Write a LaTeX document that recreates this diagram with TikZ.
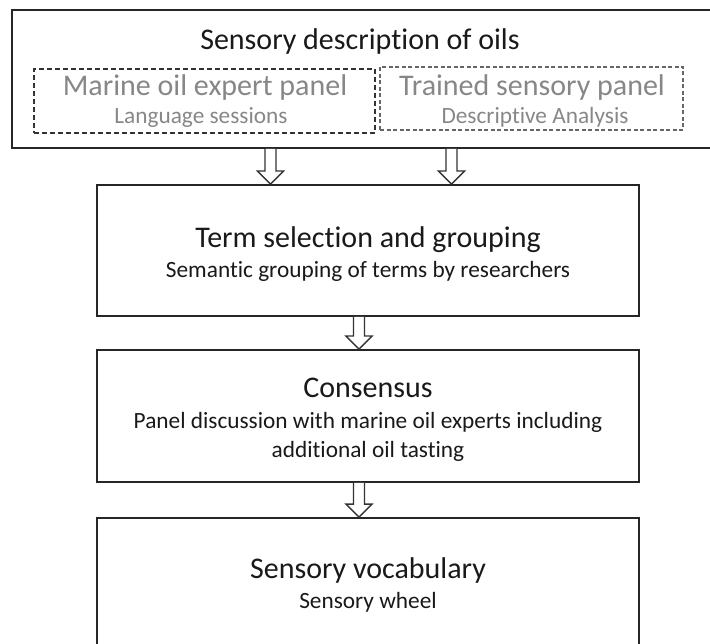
\documentclass[tikz,border=0pt]{standalone}
\usepackage{fontspec}
\setmainfont{Carlito}[Ligatures={NoCommon}]
\usepackage{tikz}
\usetikzlibrary{calc}
\tikzset{stepbox/.style={draw=black!85, line width=1.8pt, inner sep=0pt}}
\tikzset{panelbox/.style={draw=black!80, line width=1.5pt, dash pattern=on 5pt off 3pt, inner sep=0pt}}
\tikzset{trainedbox/.style={draw=black!60, line width=1.1pt, dash pattern=on 4pt off 2.5pt, inner sep=0pt}}
\tikzset{heading/.style={anchor=base, inner sep=0pt, text=black!90, font=\fontsize{30}{36}\selectfont}}
\tikzset{subheading/.style={anchor=base, inner sep=0pt, text=black!90, font=\fontsize{23.3}{29}\selectfont}}
\tikzset{arrowline/.style={draw=black!80, line width=1.3pt, fill=white, line join=miter}}
\colorlet{panelgray}{black!47}
% hollow block arrow, #1 = start on the upper box, #2 = tip on the lower box
\newcommand{\hollowarrow}[2]{%
  \draw[arrowline] ($(#1)+(-5.5,0)$) -- ($(#2)+(-5.5,-13)$) -- ($(#2)+(-13,-13)$)
    -- (#2) -- ($(#2)+(13,-13)$) -- ($(#2)+(5.5,-13)$) -- ($(#1)+(5.5,0)$);}

\begin{document}
\begin{tikzpicture}[x=1pt, y=-1pt]
\useasboundingbox (0,0) rectangle (710,644);
\clip (0,0) rectangle (710,644);

%boxes
\node (sensory) at (366,79)[stepbox, minimum width=708pt, minimum height=138pt]{};
\node (marine) at (204.5,101)[panelbox, minimum width=341pt, minimum height=64pt]{};
\node (trained) at (531.5,98.5)[trainedbox, minimum width=303pt, minimum height=63pt]{};
\node (term) at (368,250.5)[stepbox, minimum width=542pt, minimum height=131pt]{};
\node (consensus) at (368,416)[stepbox, minimum width=542pt, minimum height=132pt]{};
\node (vocab) at (368,589)[stepbox, minimum width=542pt, minimum height=142pt]{};

%texts
\node (sensorytitle) at (360,50)[heading]{Sensory description of oils};
\node (marinetitle) at (205,96)[heading, text=panelgray]{Marine oil expert panel};
\node (marinesub) at (201,124)[subheading, text=panelgray]{Language sessions};
\node (trainedtitle) at (532,96)[heading, text=panelgray]{Trained sensory panel};
\node (trainedsub) at (535,124)[subheading, text=panelgray]{Descriptive Analysis};
\node (termtitle) at (368,248)[heading]{Term selection and grouping};
\node (termsub) at (368,278)[subheading]{Semantic grouping of terms by researchers};
\node (constitle) at (368,398)[heading]{Consensus};
\node (conssub) at (368,457)[subheading, align=center]{Panel discussion with marine oil experts including\\additional oil tasting};
\node (vocabtitle) at (368,578)[heading]{Sensory vocabulary};
\node (vocabsub) at (368,608)[subheading]{Sensory wheel};

%arrows
\coordinate (a1) at (270.5,0);
\coordinate (a2) at (451.5,0);
\coordinate (a3) at (359,0);
\coordinate (s1) at (sensory.south -| a1);
\coordinate (t1) at (term.north -| a1);
\coordinate (s2) at (sensory.south -| a2);
\coordinate (t2) at (term.north -| a2);
\coordinate (s3) at (term.south -| a3);
\coordinate (t3) at (consensus.north -| a3);
\coordinate (s4) at (consensus.south -| a3);
\coordinate (t4) at (vocab.north -| a3);
\hollowarrow{s1}{t1}
\hollowarrow{s2}{t2}
\hollowarrow{s3}{t3}
\hollowarrow{s4}{t4}
\end{tikzpicture}
\end{document}
